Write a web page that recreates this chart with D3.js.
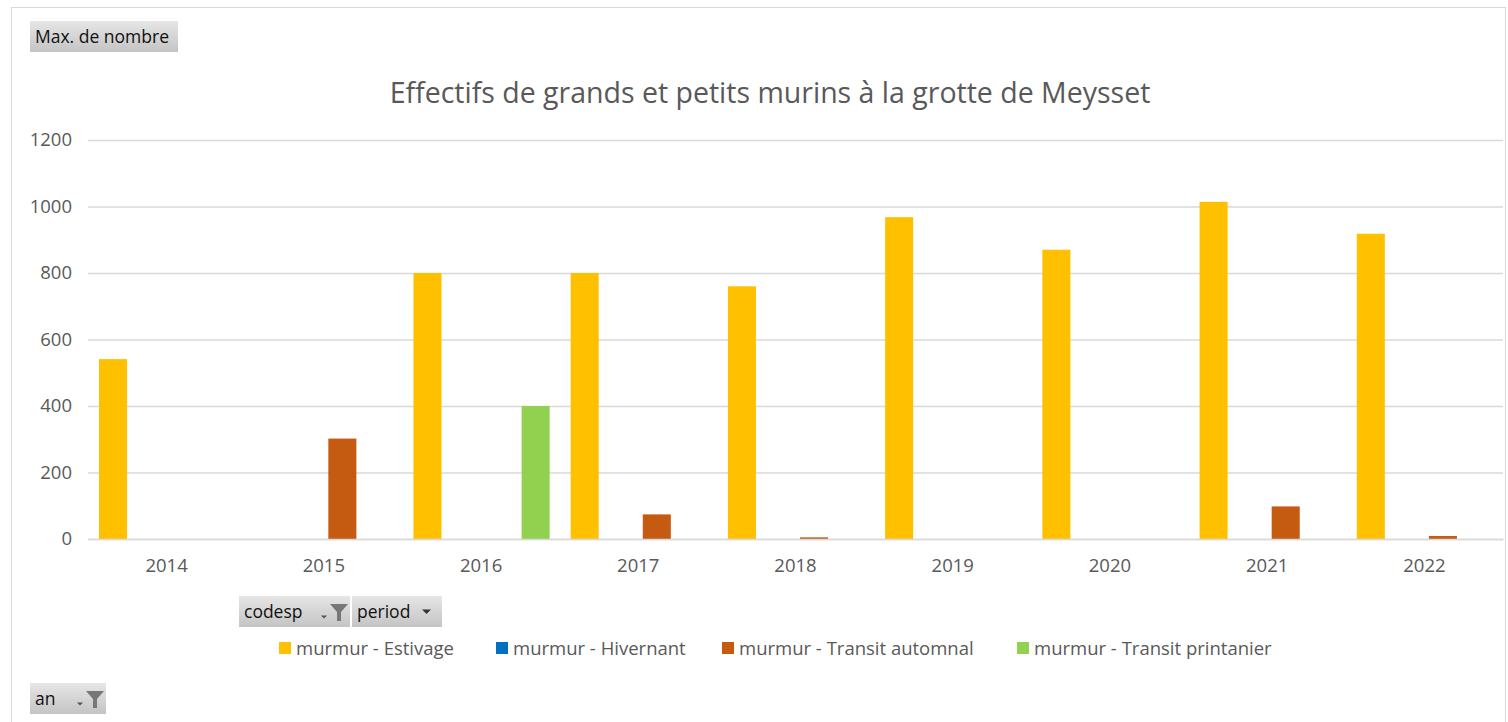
<!DOCTYPE html>
<html><head><meta charset="utf-8">
<script src="https://cdn.jsdelivr.net/npm/d3@7"></script>
<style>
body{margin:0;background:#fff;}
text{font-family:"Open Sans","Noto Sans",sans-serif;}
</style></head>
<body><svg id="c" width="1508" height="722"></svg>
<script>
const years = ["2014","2015","2016","2017","2018","2019","2020","2021","2022"];
const seriesNames = ["murmur - Estivage","murmur - Hivernant","murmur - Transit automnal","murmur - Transit printanier"];
const colors = ["#FFC000","#0070C0","#C55A11","#92D050"];
const estivage   = [541, 0, 800, 800, 760, 968, 870, 1014, 918];
const hivernant  = [0, 0, 0, 0, 0, 0, 0, 0, 0];
const automnal   = [0, 302, 0, 74, 5, 0, 0, 98, 9];
const printanier = [0, 0, 400, 0, 0, 0, 0, 0, 0];
const yTicks = [0,200,400,600,800,1000,1200];
const title = "Effectifs de grands et petits murins à la grotte de Meysset";

const allSeries = [estivage, hivernant, automnal, printanier];
const svg = d3.select("#c");

// outer border
svg.append("rect").attr("x",11.5).attr("y",7.5).attr("width",1494).attr("height",720)
  .attr("fill","none").attr("stroke","#d9d9d9");

const L=88, R=1503, T=140, B=539;
const x = d3.scaleBand().domain(years).range([L,R]).padding(0);
const bw = x.bandwidth();
const xi = d3.scaleBand().domain(d3.range(4)).range([bw*11/157, bw*147/157]).paddingInner(8/36).paddingOuter(0);
const y = d3.scaleLinear().domain([0,1200]).range([B,T]);

// gridlines
const yAxis = d3.axisLeft(y).tickValues(yTicks).tickSize(-(R-L)).tickFormat(d3.format("d"));
const gy = svg.append("g").attr("transform",`translate(${L},0)`).call(yAxis);
gy.select(".domain").remove();
gy.selectAll(".tick line").attr("stroke","#d9d9d9").attr("stroke-width",1.5);
gy.selectAll(".tick text").attr("x",-16).attr("fill","#595959").attr("font-size",18.5);

// bars
allSeries.forEach((vals,si)=>{
  svg.append("g").selectAll("rect").data(vals.map((v,i)=>({v,year:years[i]})).filter(d=>d.v>0))
    .join("rect")
    .attr("x",d=>x(d.year)+xi(si))
    .attr("width",xi.bandwidth())
    .attr("y",d=>y(d.v))
    .attr("height",d=>B-y(d.v))
    .attr("fill",colors[si]);
});

// x axis
const xAxis = d3.axisBottom(x).tickSize(0).tickPadding(20);
const gx = svg.append("g").attr("transform",`translate(0,${B})`).call(xAxis);
gx.select(".domain").attr("stroke","#d9d9d9").attr("stroke-width",1.5);
gx.selectAll(".tick text").attr("fill","#595959").attr("font-size",18.5);

// title
svg.append("text").attr("x",770).attr("y",103).attr("text-anchor","middle")
  .attr("fill","#595959").attr("font-size",28.5).text(title);

// pivot buttons
const grad = svg.append("defs").append("linearGradient").attr("id","bg").attr("x1",0).attr("x2",0).attr("y1",0).attr("y2",1);
grad.append("stop").attr("offset","0%").attr("stop-color","#e6e6e6");
grad.append("stop").attr("offset","100%").attr("stop-color","#c4c4c4");
function button(x0,y0,w,h,label,icon){
  svg.append("rect").attr("x",x0).attr("y",y0).attr("width",w).attr("height",h).attr("fill","url(#bg)");
  svg.append("text").attr("x",x0+5).attr("y",y0+h/2+6).attr("font-size",17.5).attr("fill","#111")
    .text(label);
  if(icon==="filter"){
    const ix=x0+w-20;
    svg.append("path").attr("d",`M${ix-9},${y0+h/2+4} l6,0 l-3,3 z`).attr("fill","#555");
    svg.append("path").attr("d",`M${ix},${y0+8} l18,0 l-7,8 l0,9 l-4,0 l0,-9 z`).attr("fill","#777");
  } else if(icon==="drop"){
    const ix=x0+w-16;
    svg.append("path").attr("d",`M${ix-4},${y0+h/2-2} l9,0 l-4.5,4.5 z`).attr("fill","#333");
  }
}
button(30,21,148,31,"Max. de nombre",null);
button(239,596,111,31,"codesp","filter");
button(352,596,90,31,"period","drop");
button(30,683,76,31,"an","filter");

// legend
const legX = [279,496,722,1017];
const lg = svg.append("g");
seriesNames.forEach((n,i)=>{
  lg.append("rect").attr("x",legX[i]).attr("y",642).attr("width",12).attr("height",12).attr("fill",colors[i]);
  lg.append("text").attr("x",legX[i]+17).attr("y",654.5).attr("font-size",18.5).attr("fill","#595959").text(n);
});
</script></body></html>
